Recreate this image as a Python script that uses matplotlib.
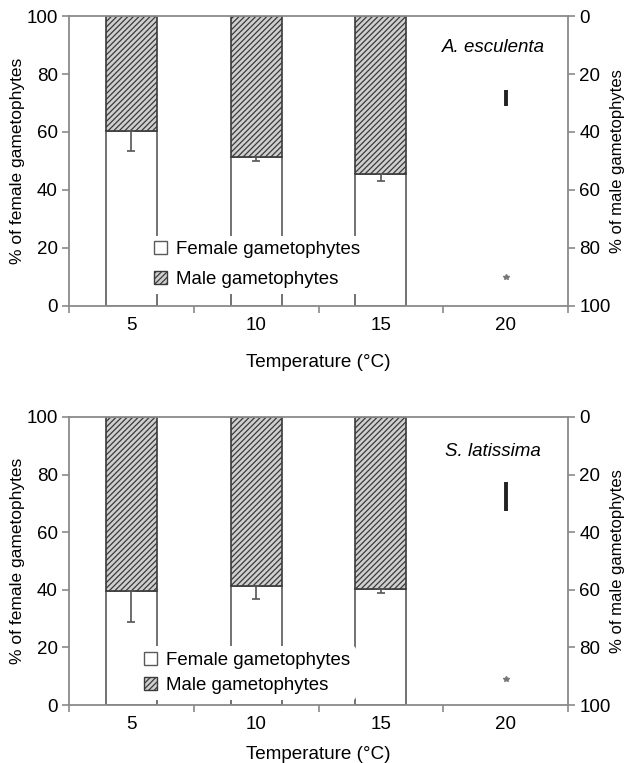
import matplotlib
matplotlib.use('Agg')
import matplotlib.pyplot as plt
from matplotlib.patches import Patch
import numpy as np

plt.rcParams['font.family'] = ['Liberation Sans', 'DejaVu Sans']
plt.rcParams['hatch.linewidth'] = 0.9
plt.rcParams['hatch.color'] = '#4a4a4a'

temps = ['5', '10', '15', '20']

# A. esculenta
esc_female = [60.4, 51.4, 45.5]
esc_err = [6.8, 1.4, 2.3]
esc_line_20 = [69.0, 74.5]   # dark bar at 20 °C
esc_star_20 = 10.0

# S. latissima
lat_female = [39.7, 41.4, 40.3]
lat_err = [11.0, 4.6, 1.5]
lat_line_20 = [67.4, 77.4]
lat_star_20 = 9.0

axis_gray = '#8a8a8a'
edge_gray = '#5a5a5a'


def draw_panel(ax, female, err, line20, star20, species, sp_y, leg_anchor, leg_spacing):
    x = np.arange(len(female))
    male = [100 - f for f in female]
    ax.bar(x, female, width=0.41, color='white', edgecolor=edge_gray, linewidth=1.2, zorder=2)
    ax.bar(x, male, bottom=female, width=0.41, color='#cfcfcf', edgecolor='#3a3a3a',
           hatch='//////', linewidth=1.2, zorder=2)
    ax.errorbar(x, female, yerr=[err, [0] * len(err)], fmt='none', ecolor='#555555',
                elinewidth=1.2, capsize=3, capthick=1.2, zorder=3)
    ax.vlines(3, line20[0], line20[1], color='#222222', linewidth=2.8, zorder=3)
    ax.plot(3, star20, marker='*', color='#777777', markersize=4, zorder=3)

    ax.set_xlim(-0.5, 3.5)
    ax.set_ylim(0, 100)
    ax.set_yticks(range(0, 101, 20))
    ax.set_xticks(np.arange(-0.5, 3.6, 1))
    ax.set_xticklabels([])
    ax.set_xticks(np.arange(4), minor=True)
    ax.set_xticklabels(temps, minor=True)
    ax.tick_params(axis='x', which='minor', length=0, pad=8, labelsize=13.5)
    ax.tick_params(axis='x', which='major', length=5, color=axis_gray, width=1.2)
    ax.tick_params(axis='y', length=5, color=axis_gray, width=1.2, labelsize=13.5, pad=3)
    for s in ax.spines.values():
        s.set_color(axis_gray)
        s.set_linewidth(1.3)
    ax.set_ylabel('% of female gametophytes', fontsize=12.5)
    ax.yaxis.set_label_coords(-0.088, 0.5)
    ax.text(2.9, sp_y, species, style='italic', fontsize=13.5, ha='center', va='center')

    handles = [Patch(facecolor='white', edgecolor=edge_gray, label='Female gametophytes'),
               Patch(facecolor='#cfcfcf', edgecolor='#3a3a3a', hatch='//////',
                     label='Male gametophytes')]
    leg = ax.legend(handles=handles, loc='upper left', bbox_to_anchor=leg_anchor,
                    frameon=True, fontsize=13.4, handlelength=0.7, handleheight=0.7,
                    handletextpad=0.45, labelspacing=leg_spacing, borderpad=0.3,
                    borderaxespad=0)
    leg.get_frame().set_edgecolor('none')
    leg.get_frame().set_facecolor('white')
    leg.get_frame().set_alpha(1)
    leg.set_zorder(5)

    ax2 = ax.twinx()
    ax2.set_ylim(100, 0)
    ax2.set_yticks(range(0, 101, 20))
    ax2.tick_params(axis='y', length=5, color=axis_gray, width=1.2, labelsize=13.5, pad=3)
    for s in ax2.spines.values():
        s.set_visible(False)
    ax2.set_ylabel('% of male gametophytes', fontsize=12)
    ax2.yaxis.set_label_coords(1.084, 0.5)
    return ax2


fig = plt.figure(figsize=(6.28, 7.63), dpi=100)
ax_top = fig.add_axes([0.1099, 0.599, 0.7946, 0.380])
ax_bot = fig.add_axes([0.1099, 0.076, 0.7946, 0.3775])

draw_panel(ax_top, esc_female, esc_err, esc_line_20, esc_star_20, 'A. esculenta', 89.0,
           (0.16, 0.243), 0.7)
draw_panel(ax_bot, lat_female, lat_err, lat_line_20, lat_star_20, 'S. latissima', 88.0,
           (0.14, 0.204), 0.45)

ax_top.set_xlabel('Temperature (°C)', fontsize=13.6, labelpad=14)
ax_bot.set_xlabel('Temperature (°C)', fontsize=13.6, labelpad=9)

fig.savefig('out.png', dpi=100)
